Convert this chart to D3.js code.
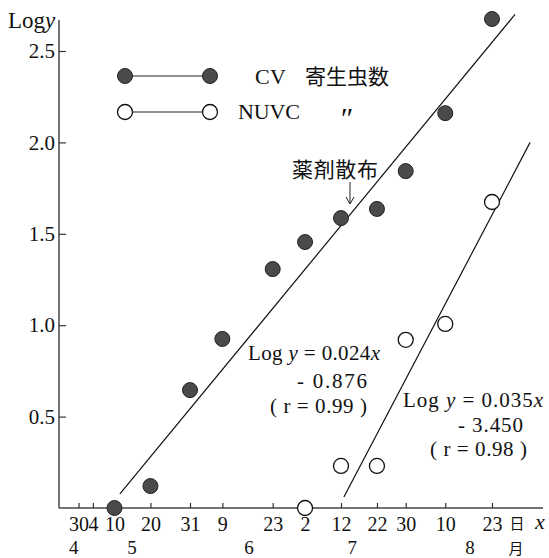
<!DOCTYPE html>
<html><head><meta charset="utf-8">
<script src="https://cdn.jsdelivr.net/npm/d3@7"></script>
<style>
body{margin:0;background:#fff;}
text{font-family:"Liberation Serif","DejaVu Serif",serif;fill:#111;}
.cjk{font-family:"Noto Sans CJK JP","Noto Sans CJK SC",sans-serif;}
</style></head>
<body>
<svg id="c" width="549" height="558"></svg>
<script>
// ---- data (x = day of year, y = Log y) ----
const tickDays   = [120,124,130,140,151,160,174,183,193,203,211,222,235];
const tickLabels = ["30","4","10","20","31","9","23","2","12","22","30","10","23"];
const monthDays  = [118.7,134.9,167.4,196.1,228.9];
const monthLabels= ["4","5","6","7","8"];
const yTicks     = [0.5,1.0,1.5,2.0,2.5];
const cvDays     = [130,140,151,160,174,183,193,203,211,222,235];
const cvLog      = [0,0.12,0.645,0.925,1.307,1.455,1.586,1.636,1.843,2.16,2.675];
const nuvcDays   = [183,193,203,211,222,235];
const nuvcLog    = [0,0.23,0.23,0.92,1.007,1.674];
const cvFitDays  = [131.5,241.4], cvFitLog = [0.077,2.70];
const nuvcFitDays= [193.8,245.6], nuvcFitLog = [0.06,2.0];

const svg = d3.select("#c");
const x = d3.scaleLinear().domain([130,235]).range([114.5,492]);
const y = d3.scaleLinear().domain([0,2.5]).range([508,51]);
const x0 = x.invert(59), x1 = x.invert(543), yTop = y.invert(20);

// axis lines
svg.append("line").attr("x1",x(x0)).attr("x2",x(x0)).attr("y1",y(0)).attr("y2",y(yTop))
  .attr("stroke","#444").attr("stroke-width",1.5);
svg.append("line").attr("x1",x(x0)).attr("x2",x(x1)).attr("y1",y(0)).attr("y2",y(0))
  .attr("stroke","#444").attr("stroke-width",1.5);

// y axis
const ya = svg.append("g").attr("transform",`translate(${x(x0)},0)`)
  .call(d3.axisLeft(y).tickValues(yTicks).tickFormat(d3.format(".1f")).tickSize(-7).tickSizeOuter(0).tickPadding(4));
ya.select(".domain").remove();
ya.selectAll("line").attr("stroke","#333").attr("stroke-width",1.2);
ya.selectAll("text").style("font-size","21px").attr("fill","#111").style("font-family","Liberation Serif");

// x axis
const xa = svg.append("g").attr("transform",`translate(0,${y(0)})`)
  .call(d3.axisBottom(x).tickValues(tickDays).tickFormat((d,i)=>tickLabels[i]).tickSize(-5).tickSizeOuter(0).tickPadding(9));
xa.select(".domain").remove();
xa.selectAll("line").attr("stroke","#333").attr("stroke-width",1.2);
xa.selectAll("text").style("font-size","20px").attr("fill","#111").style("font-family","Liberation Serif");

// month labels
svg.selectAll(".mon").data(monthDays).join("text").attr("class","mon")
  .attr("x",d=>x(d)).attr("y",554).attr("text-anchor","middle").style("font-size","19px")
  .text((d,i)=>monthLabels[i]);
svg.append("text").attr("class","cjk").attr("x",517).attr("y",529).attr("text-anchor","middle").style("font-size","15px").text("日");
svg.append("text").attr("class","cjk").attr("x",516).attr("y",553.5).attr("text-anchor","middle").style("font-size","15px").text("月");
svg.append("text").attr("x",540).attr("y",529).attr("text-anchor","middle").style("font-size","22px").style("font-style","italic").text("x");

// y label
const yl = svg.append("text").attr("x",8).attr("y",28).style("font-size","23px");
yl.append("tspan").text("Log");
yl.append("tspan").style("font-style","italic").text("y");

// fit lines
const line = d3.line().x(d=>x(d[0])).y(d=>y(d[1]));
svg.append("path").attr("d",line(d3.zip(cvFitDays,cvFitLog))).attr("fill","none").attr("stroke","#111").attr("stroke-width",1.2);
svg.append("path").attr("d",line(d3.zip(nuvcFitDays,nuvcFitLog))).attr("fill","none").attr("stroke","#111").attr("stroke-width",1.2);

// points
svg.selectAll(".cv").data(d3.zip(cvDays,cvLog)).join("circle").attr("class","cv")
  .attr("cx",d=>x(d[0])).attr("cy",d=>y(d[1])).attr("r",7.5).attr("fill","#4a4a4a").attr("stroke","#222").attr("stroke-width",1);
svg.selectAll(".nu").data(d3.zip(nuvcDays,nuvcLog)).join("circle").attr("class","nu")
  .attr("cx",d=>x(d[0])).attr("cy",d=>y(d[1])).attr("r",7.5).attr("fill","#fff").attr("stroke","#111").attr("stroke-width",1.3);

// legend
svg.append("line").attr("x1",125).attr("x2",210).attr("y1",76).attr("y2",76).attr("stroke","#222").attr("stroke-width",1.2);
svg.append("line").attr("x1",125).attr("x2",210).attr("y1",112).attr("y2",112).attr("stroke","#222").attr("stroke-width",1.2);
[125,210].forEach(cx=>{
  svg.append("circle").attr("cx",cx).attr("cy",76).attr("r",7.5).attr("fill","#4a4a4a").attr("stroke","#222");
  svg.append("circle").attr("cx",cx).attr("cy",112).attr("r",7.5).attr("fill","#fff").attr("stroke","#111").attr("stroke-width",1.3);
});
svg.append("text").attr("x",255).attr("y",84).style("font-size","22px").attr("textLength",31).text("CV");
svg.append("text").attr("class","cjk").attr("x",305).attr("y",84).style("font-size","21px").text("寄生虫数");
svg.append("text").attr("x",238).attr("y",119).style("font-size","22px").attr("textLength",62).text("NUVC");
svg.append("text").attr("x",339).attr("y",128).style("font-size","30px").style("font-style","italic").text("″");

// annotation
svg.append("text").attr("class","cjk").attr("x",292).attr("y",177).style("font-size","21px").attr("textLength",86).text("薬剤散布");
svg.append("line").attr("x1",350).attr("x2",350).attr("y1",182).attr("y2",203).attr("stroke","#222").attr("stroke-width",1);
svg.append("path").attr("d","M346,197 L350,204 L354,197").attr("fill","none").attr("stroke","#222").attr("stroke-width",1);

// equations
function eq(x0,yb,coef,len){
  const t = svg.append("text").attr("x",x0).attr("y",yb).style("font-size","21px")
    .attr("textLength",len).attr("lengthAdjust","spacing");
  t.append("tspan").text("Log ");
  t.append("tspan").style("font-style","italic").text("y");
  t.append("tspan").text(" = " + coef);
  t.append("tspan").style("font-style","italic").text("x");
}
function txt(x0,yb,s,len){
  svg.append("text").attr("x",x0).attr("y",yb).style("font-size","21px")
    .attr("textLength",len).attr("lengthAdjust","spacing").text(s);
}
eq(248,360,"0.024",132);
txt(297,388,"- 0.876",70);
txt(270,413,"(  r = 0.99 )",97);
eq(403,407,"0.035",140);
txt(458,432,"- 3.450",65);
txt(430,456,"(  r = 0.98 )",97);
</script>
</body></html>
